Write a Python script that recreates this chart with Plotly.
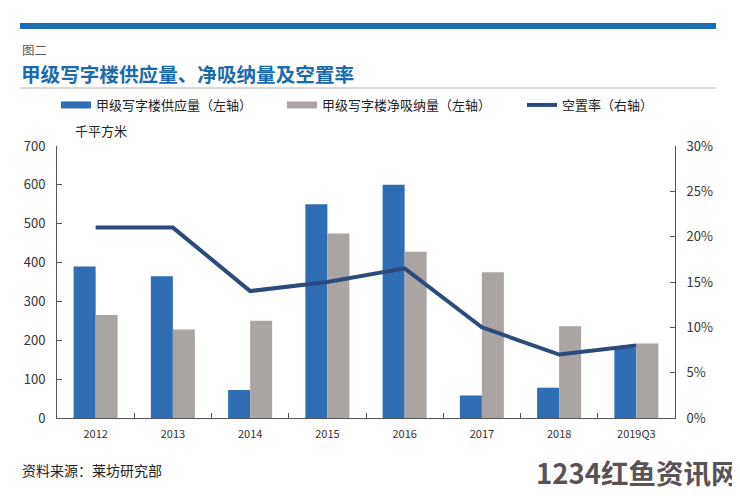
import plotly.graph_objects as go

categories = ["2012", "2013", "2014", "2015", "2016", "2017", "2018", "2019Q3"]
supply = [390, 365, 72, 550, 600, 58, 78, 180]
absorption = [265, 228, 250, 475, 428, 375, 236, 192]
vacancy = [0.21, 0.21, 0.14, 0.15, 0.165, 0.10, 0.07, 0.08]

left_ticks = [0, 100, 200, 300, 400, 500, 600, 700]

BLUE = "#2f6db4"
GRAY = "#aaa5a3"
NAVY = "#2c4a7c"
CJK = "Noto Sans CJK SC"

OFF = 8  # page body margin
W, H = 740 - OFF, 496 - OFF
ML, MR, MT, MB = 57 - OFF, 740 - 675, 146 - OFF, 496 - 418
PW = W - ML - MR
PH = H - MT - MB


def px(xs):
    """screen x -> paper x"""
    return (xs - OFF - ML) / PW


def py(ys):
    """screen y -> paper y"""
    return (H - MB - (ys - OFF)) / PH


fig = go.Figure()

fig.add_trace(go.Bar(x=categories, y=supply, name="甲级写字楼供应量（左轴）",
                     marker=dict(color=BLUE, line=dict(width=0)),
                     legendgroup="s", showlegend=False))
fig.add_trace(go.Bar(x=categories, y=absorption, name="甲级写字楼净吸纳量（左轴）",
                     marker=dict(color=GRAY, line=dict(width=0)),
                     legendgroup="a", showlegend=False))
fig.add_trace(go.Scatter(x=categories, y=vacancy, name="空置率（右轴）", yaxis="y2",
                         mode="lines", line=dict(color=NAVY, width=4),
                         legendgroup="v", showlegend=False))

# legend entries (wide symbols like the reference)
fig.add_trace(go.Scatter(x=[None], y=[None], mode="lines", name="甲级写字楼供应量（左轴）",
                         line=dict(color=BLUE, width=7), legendgroup="s", legend="legend"))
fig.add_trace(go.Scatter(x=[None], y=[None], mode="lines", name="甲级写字楼净吸纳量（左轴）",
                         line=dict(color=GRAY, width=7), legendgroup="a", legend="legend2"))
fig.add_trace(go.Scatter(x=[None], y=[None], mode="lines", name="空置率（右轴）",
                         line=dict(color=NAVY, width=4), legendgroup="v", yaxis="y2",
                         legend="legend3"))


def leg(xs):
    return dict(orientation="h", xref="container", yref="container",
                x=(xs - OFF) / W, y=1 - (105 - OFF) / H, xanchor="left", yanchor="middle",
                font=dict(size=13, color="#222222", family=CJK),
                bgcolor="rgba(0,0,0,0)")


fig.update_layout(
    width=W, height=H,
    margin=dict(l=ML, r=MR, t=MT, b=MB, autoexpand=False),
    paper_bgcolor="white", plot_bgcolor="white",
    font=dict(family=CJK, color="#333333", size=13),
    barmode="group", bargap=0.43, bargroupgap=0,
    legend=leg(56), legend2=leg(282), legend3=leg(522),
    xaxis=dict(type="category", showline=True, linecolor="#555555", linewidth=1,
               ticks="inside", tickson="boundaries", ticklen=5, tickcolor="#555555",
               tickfont=dict(size=11, color="#333333"), showgrid=False, zeroline=False,
               ticklabelstandoff=6),
    yaxis=dict(range=[0, 700], tickvals=left_ticks, showline=True, linecolor="#555555",
               linewidth=1, ticks="inside", ticklen=5, tickcolor="#555555",
               tickfont=dict(size=13, color="#333333"), showgrid=False, zeroline=False,
               ticklabelstandoff=8),
    yaxis2=dict(range=[0, 0.30], dtick=0.05, tickformat=".0%", overlaying="y", side="right",
                showline=True, linecolor="#555555", linewidth=1, ticks="inside", ticklen=5,
                tickcolor="#555555", tickfont=dict(size=13, color="#333333"),
                showgrid=False, zeroline=False, ticklabelstandoff=8),
    showlegend=True,
)

# decorations: top band and separator line
fig.add_shape(type="rect", xref="paper", yref="paper", x0=px(20), x1=px(716),
              y0=py(29), y1=py(23), fillcolor="#1f6db3", line=dict(width=0), layer="above")
fig.add_shape(type="line", xref="paper", yref="paper", x0=px(20), x1=px(716),
              y0=py(88), y1=py(88), line=dict(color="#b5b5b5", width=1))

fig.add_annotation(text="图二", xref="paper", yref="paper", x=px(20), y=py(50),
                   xanchor="left", yanchor="middle", showarrow=False,
                   font=dict(size=12.5, color="#555555", family=CJK))
fig.add_annotation(text="<b>甲级写字楼供应量、净吸纳量及空置率</b>", xref="paper", yref="paper",
                   x=px(19), y=py(73), xanchor="left", yanchor="middle", showarrow=False,
                   font=dict(size=19.6, color="#1a6aae", family=CJK))
fig.add_annotation(text="千平方米", xref="paper", yref="paper", x=px(73), y=py(130),
                   xanchor="left", yanchor="middle", showarrow=False,
                   font=dict(size=13, color="#222222", family=CJK))
fig.add_annotation(text="资料来源：莱坊研究部", xref="paper", yref="paper", x=px(20), y=py(470),
                   xanchor="left", yanchor="middle", showarrow=False,
                   font=dict(size=14, color="#222222", family=CJK))
fig.add_annotation(text="<b>1234红鱼资讯网</b>", xref="paper", yref="paper", x=px(740), y=py(472),
                   xanchor="right", yanchor="middle", showarrow=False,
                   font=dict(size=27.5, color="#5a5254", family=CJK))

fig.write_html("out.html")
